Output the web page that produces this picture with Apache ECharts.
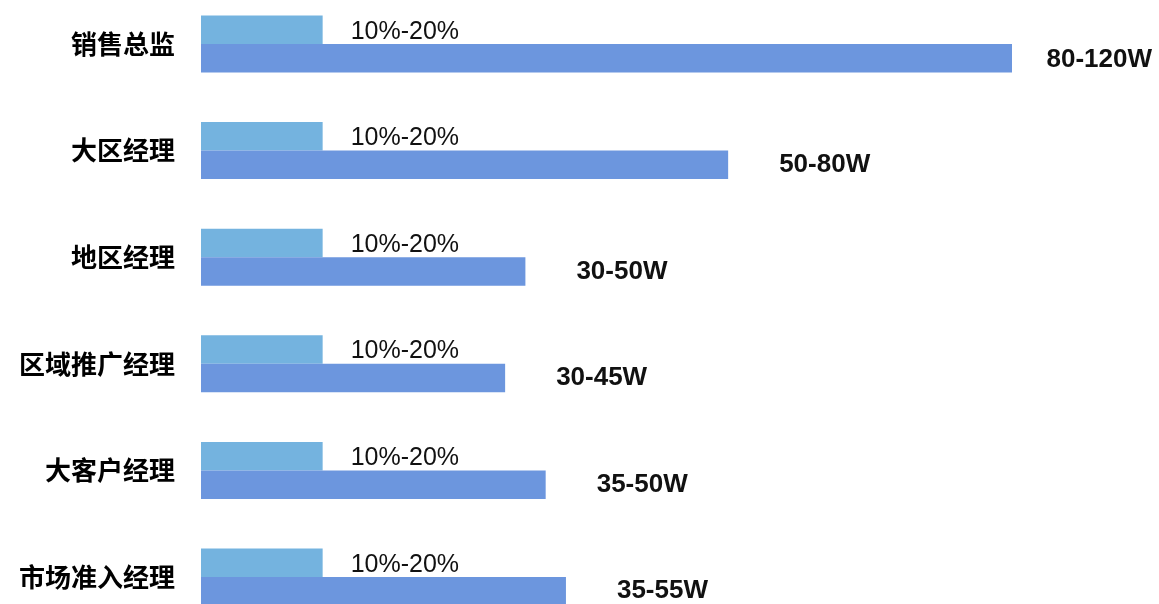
<!DOCTYPE html>
<html>
<head>
<meta charset="utf-8">
<script src="https://cdn.jsdelivr.net/npm/echarts@6/dist/echarts.min.js"></script>
<style>
  html, body { margin: 0; padding: 0; background: #fff; }
  #chart { width: 1159px; height: 604px; }
</style>
</head>
<body>
<div id="chart"></div>
<script>
// Positions, top to bottom
const categories = ['销售总监', '大区经理', '地区经理', '区域推广经理', '大客户经理', '市场准入经理'];
// Commission share (midpoint of the range) and its label
const commissionValues = [15, 15, 15, 15, 15, 15];
const commissionLabels = ['10%-20%', '10%-20%', '10%-20%', '10%-20%', '10%-20%', '10%-20%'];
// Annual salary in 万 (midpoint of the range) and its label
const salaryValues = [100, 65, 40, 37.5, 42.5, 45];
const salaryLabels = ['80-120W', '50-80W', '30-50W', '30-45W', '35-50W', '35-55W'];

const chart = echarts.init(document.getElementById('chart'), null, { renderer: 'canvas' });
const W = 1159;

chart.setOption({
  animation: false,
  backgroundColor: '#ffffff',
  grid: { left: 201, width: 811, top: 44, height: 533 },
  xAxis: {
    type: 'value', min: 0, max: 100, show: false
  },
  yAxis: {
    type: 'category',
    data: categories,
    inverse: true,
    boundaryGap: false,
    axisLine: { show: false },
    axisTick: { show: false },
    splitLine: { show: false },
    axisLabel: {
      margin: 26,
      fontSize: 26,
      fontWeight: 'bold',
      color: '#000',
      fontFamily: '"Noto Sans CJK SC", sans-serif'
    }
  },
  series: [
    {
      type: 'bar',
      data: commissionValues,
      barWidth: 28.5,
      barGap: '0%',
      itemStyle: { color: '#74b3df' },
      label: {
        show: true,
        position: 'right',
        distance: 28,
        offset: [0, 2],
        formatter: p => commissionLabels[p.dataIndex],
        fontSize: 25,
        color: '#111',
        fontFamily: '"Liberation Sans", Arial, sans-serif'
      }
    },
    {
      type: 'bar',
      data: salaryValues,
      barWidth: 28.5,
      barGap: '0%',
      itemStyle: { color: '#6c96de' },
      label: {
        show: true,
        position: 'right',
        distance: 51,
        offset: [0, 2],
        formatter: p => salaryLabels[p.dataIndex],
        fontSize: 26,
        fontWeight: 'bold',
        color: '#111',
        fontFamily: '"Liberation Sans", Arial, sans-serif'
      },
      // keep labels inside the canvas
      labelLayout: function (params) {
        const r = params.labelRect;
        if (r.x + r.width > W - 7) {
          return {
            x: W - 7 - r.width,
            y: r.y + r.height / 2,
            align: 'left',
            verticalAlign: 'middle'
          };
        }
        return {};
      }
    }
  ]
});
</script>
</body>
</html>
